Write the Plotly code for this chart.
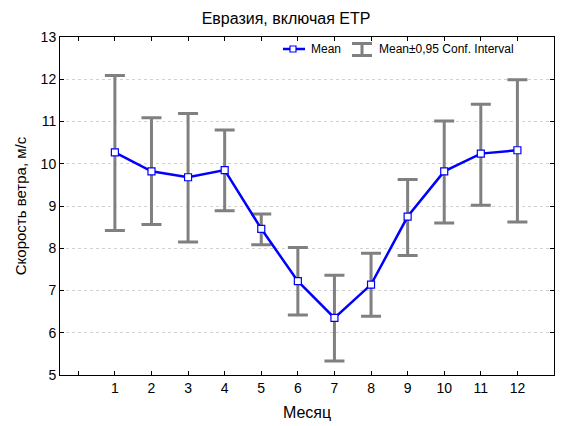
import plotly.graph_objects as go

months = [1, 2, 3, 4, 5, 6, 7, 8, 9, 10, 11, 12]
mean = [10.27, 9.82, 9.68, 9.85, 8.46, 7.22, 6.35, 7.14, 8.75, 9.82, 10.24, 10.32]
upper = [12.09, 11.09, 11.19, 10.80, 8.81, 8.02, 7.36, 7.88, 9.63, 11.01, 11.41, 11.99]
lower = [8.42, 8.56, 8.15, 8.89, 8.08, 6.42, 5.33, 6.39, 7.83, 8.60, 9.02, 8.62]

title_text = "Евразия, включая ЕТР"
x_title = "Месяц"
y_title = "Скорость ветра, м/с"
legend_mean = "Mean"
legend_ci = "Mean±0,95 Conf. Interval"

err_plus = [u - m for u, m in zip(upper, mean)]
err_minus = [m - l for m, l in zip(mean, lower)]

FONT = "Liberation Sans, Arial, sans-serif"
BLUE = "#0000ff"
GRAY = "#808080"

fig = go.Figure()
fig.add_trace(go.Scatter(
    x=months, y=mean, mode="markers",
    marker=dict(size=1, color="rgba(0,0,0,0)"),
    error_y=dict(type="data", symmetric=False, array=err_plus, arrayminus=err_minus,
                 color=GRAY, thickness=3, width=10),
    showlegend=False, hoverinfo="skip",
))
fig.add_trace(go.Scatter(
    x=months, y=mean, mode="lines+markers",
    line=dict(color=BLUE, width=2.5),
    marker=dict(symbol="square", size=7, color="white", line=dict(color=BLUE, width=1.2)),
    showlegend=False,
))

L, R, T, B = 60, 10, 37, 51
W, H = 564, 426
pw = W - L - R
ph = H - T - B

def px(x):
    return (x - L) / pw

def py(y):
    return (H - B - y) / ph

shapes = [
    dict(type="line", xref="paper", yref="paper", x0=px(283), x1=px(305), y0=py(49), y1=py(49),
         line=dict(color=BLUE, width=2.5)),
    dict(type="rect", xref="paper", yref="paper", x0=px(290), x1=px(296), y0=py(46), y1=py(52),
         fillcolor="white", line=dict(color=BLUE, width=1.2)),
    dict(type="line", xref="paper", yref="paper", x0=px(362), x1=px(362), y0=py(43.5), y1=py(55.5),
         line=dict(color=GRAY, width=3)),
    dict(type="line", xref="paper", yref="paper", x0=px(352), x1=px(372), y0=py(43.5), y1=py(43.5),
         line=dict(color=GRAY, width=3)),
    dict(type="line", xref="paper", yref="paper", x0=px(352), x1=px(372), y0=py(55.5), y1=py(55.5),
         line=dict(color=GRAY, width=3)),
]

annotations = [
    dict(text=legend_mean, xref="paper", yref="paper", x=px(309), y=py(49), xanchor="left",
         yanchor="middle", showarrow=False, font=dict(family=FONT, size=12, color="black")),
    dict(text=legend_ci, xref="paper", yref="paper", x=px(377), y=py(49), xanchor="left",
         yanchor="middle", showarrow=False, font=dict(family=FONT, size=12, color="black")),
]

fig.update_layout(
    width=W, height=H,
    margin=dict(l=L, r=R, t=T, b=B, autoexpand=False),
    paper_bgcolor="white", plot_bgcolor="white",
    font=dict(family=FONT, size=14, color="black"),
    title=dict(text=title_text, x=px(286), xref="paper", xanchor="center",
               y=1 - 18 / H, yanchor="middle", font=dict(family=FONT, size=16, color="black")),
    shapes=shapes, annotations=annotations,
    showlegend=False,
)
fig.update_xaxes(
    range=[-0.5, 13], tickmode="array", tickvals=list(range(0, 14)),
    ticktext=[str(m) if m in months else "" for m in range(0, 14)],
    ticks="inside", ticklen=4, tickcolor="black", showline=True, linecolor="black", linewidth=1,
    mirror="ticks", showgrid=False, zeroline=False, automargin=False,
    title=dict(text=x_title, font=dict(family=FONT, size=16), standoff=12),
    tickfont=dict(family=FONT, size=14),
)
fig.update_yaxes(
    range=[5, 13], dtick=1, ticks="inside", ticklen=4, tickcolor="black",
    showline=True, linecolor="black", linewidth=1, mirror="ticks", automargin=False,
    showgrid=True, gridcolor="#d2d2d2", griddash="dot", gridwidth=1, zeroline=False,
    title=dict(text=y_title, font=dict(family=FONT, size=15), standoff=10),
    tickfont=dict(family=FONT, size=14),
)

fig.write_html("out.html")
